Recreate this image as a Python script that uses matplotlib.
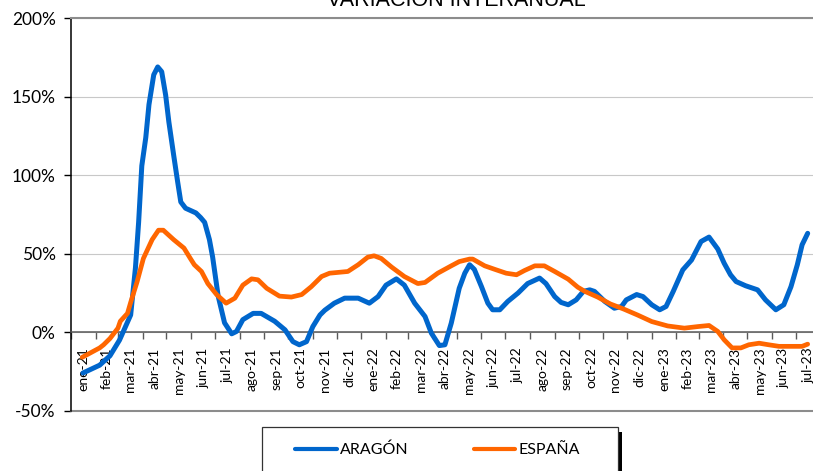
import matplotlib
matplotlib.use('Agg')
import matplotlib.pyplot as plt
from matplotlib.patches import Rectangle
import pandas as pd

# Datos (variacion interanual, %)
aragon_fechas = [
    '2021-01-16', '2021-02-06', '2021-02-19', '2021-03-03', '2021-03-17', '2021-03-23',
    '2021-03-27', '2021-03-31', '2021-04-05', '2021-04-09', '2021-04-15', '2021-04-20',
    '2021-04-25', '2021-04-30', '2021-05-04', '2021-05-10', '2021-05-15', '2021-05-19',
    '2021-05-25', '2021-06-07', '2021-06-13', '2021-06-18', '2021-06-24', '2021-06-28',
    '2021-07-05', '2021-07-13', '2021-07-22', '2021-07-28', '2021-08-05', '2021-08-18',
    '2021-08-28', '2021-09-14', '2021-09-27', '2021-10-07', '2021-10-15', '2021-10-24',
    '2021-11-01', '2021-11-10', '2021-11-16', '2021-11-28', '2021-12-11', '2021-12-28',
    '2022-01-11', '2022-01-22', '2022-02-01', '2022-02-14', '2022-02-24', '2022-03-09',
    '2022-03-22', '2022-03-30', '2022-04-09', '2022-04-16', '2022-04-24', '2022-05-04',
    '2022-05-11', '2022-05-17', '2022-05-23', '2022-06-01', '2022-06-09', '2022-06-15',
    '2022-06-24', '2022-07-04', '2022-07-17', '2022-07-29', '2022-08-13', '2022-08-21',
    '2022-09-01', '2022-09-09', '2022-09-18', '2022-09-28', '2022-10-07', '2022-10-15',
    '2022-10-21', '2022-11-03', '2022-11-15', '2022-11-24', '2022-11-30', '2022-12-13',
    '2022-12-21', '2023-01-01', '2023-01-11', '2023-01-19', '2023-01-28', '2023-02-09',
    '2023-02-20', '2023-03-04', '2023-03-14', '2023-03-25', '2023-04-02', '2023-04-10',
    '2023-04-17', '2023-04-29', '2023-05-14', '2023-05-24', '2023-06-06', '2023-06-16',
    '2023-06-25', '2023-07-03', '2023-07-09', '2023-07-16',
]
aragon_valores = [
    -26, -21, -15, -5, 11, 41,
    70, 106, 124, 145, 164, 169,
    166, 151, 134, 113, 96, 83,
    79, 76, 73, 70, 59, 48,
    23, 6, -1, 0.5, 8, 12,
    12, 7, 1.5, -6, -8, -6,
    3.6, 11, 14, 18.5, 21.7, 21.7,
    18.5, 22.7, 30, 34, 30, 18.5,
    10, -0.6, -8.5, -8, 5.8, 28,
    37.6, 43, 40, 29, 18.5, 14.3,
    14.3, 19.6, 25, 31, 34.5, 31,
    22.7, 19, 17.5, 20.6, 26, 27,
    26, 19.6, 15.3, 16.4, 20.6, 24,
    22.7, 17.5, 14.3, 16.4, 26, 39.7,
    46, 57.8, 60.6, 53, 44, 36.6,
    32.3, 29.6, 27, 20.6, 14.3, 17.5,
    29, 43, 55.7, 63,
]

espana_fechas = [
    '2021-01-15', '2021-02-06', '2021-02-11', '2021-02-19', '2021-03-01', '2021-03-04',
    '2021-03-13', '2021-03-17', '2021-03-25', '2021-04-02', '2021-04-13', '2021-04-21',
    '2021-04-27', '2021-05-10', '2021-05-23', '2021-05-31', '2021-06-05', '2021-06-14',
    '2021-06-22', '2021-07-03', '2021-07-15', '2021-07-26', '2021-08-05', '2021-08-16',
    '2021-08-24', '2021-09-04', '2021-09-20', '2021-10-05', '2021-10-18', '2021-10-30',
    '2021-11-12', '2021-11-22', '2021-12-15', '2021-12-28', '2022-01-09', '2022-01-17',
    '2022-01-26', '2022-02-08', '2022-02-24', '2022-03-13', '2022-03-22', '2022-04-07',
    '2022-04-24', '2022-05-04', '2022-05-17', '2022-05-21', '2022-06-05', '2022-06-18',
    '2022-07-02', '2022-07-15', '2022-07-25', '2022-08-07', '2022-08-19', '2022-09-01',
    '2022-09-18', '2022-09-30', '2022-10-09', '2022-10-25', '2022-11-10', '2022-11-27',
    '2022-12-14', '2023-01-01', '2023-01-21', '2023-02-11', '2023-02-28', '2023-03-14',
    '2023-03-25', '2023-04-02', '2023-04-12', '2023-04-23', '2023-05-03', '2023-05-16',
    '2023-05-28', '2023-06-10', '2023-06-27', '2023-07-09', '2023-07-16',
]
espana_valores = [
    -16, -10, -8, -4, 2.6, 7,
    12, 19, 32, 47, 59, 65,
    65, 59, 53.6, 47, 43, 38.7,
    31, 24, 18.5, 21.7, 30, 34,
    33.4, 28, 23, 22.4, 24, 29,
    35.5, 37.6, 38.7, 43, 47.8, 48.7,
    47, 41.5, 35.5, 31, 31.7, 37.6,
    42.3, 45, 46.6, 46.6, 42.3, 40,
    37.6, 36.6, 39.3, 42.3, 42.3, 38.7,
    33.8, 28.7, 26, 22.4, 18, 14.7,
    11, 6.8, 4, 2.6, 3.6, 4.3,
    0.5, -4.8, -10, -10, -8, -7,
    -8, -9, -9, -9, -7.6,
]

etiquetas_meses = [
    'ene-21', 'feb-21', 'mar-21', 'abr-21', 'may-21', 'jun-21', 'jul-21', 'ago-21',
    'sep-21', 'oct-21', 'nov-21', 'dic-21', 'ene-22', 'feb-22', 'mar-22', 'abr-22',
    'may-22', 'jun-22', 'jul-22', 'ago-22', 'sep-22', 'oct-22', 'nov-22', 'dic-22',
    'ene-23', 'feb-23', 'mar-23', 'abr-23', 'may-23', 'jun-23', 'jul-23',
]
ticks_y = [-50, 0, 50, 100, 150, 200]

plt.rcParams['font.family'] = ['Lato', 'DejaVu Sans']

W, H = 813, 471
fig = plt.figure(figsize=(W / 100, H / 100), dpi=100)
# el area de grafico continua un poco mas alla del borde derecho (recortado)
ax = fig.add_axes([71 / W, (H - 410.7) / H, (820.4 - 71) / W, (410.7 - 18.3) / H])

azul = '#0066CC'
naranja = '#FF6600'
l1, = ax.plot(pd.to_datetime(aragon_fechas), aragon_valores, color=azul, lw=3.6,
              solid_joinstyle='round', solid_capstyle='round', label='ARAGÓN', zorder=3)
l2, = ax.plot(pd.to_datetime(espana_fechas), espana_valores, color=naranja, lw=3.4,
              solid_joinstyle='round', solid_capstyle='round', label='ESPAÑA', zorder=3)

inicio_mes = pd.date_range('2021-01-01', '2023-08-01', freq='MS')
mitad_mes = inicio_mes[:-1] + (inicio_mes[1:] - inicio_mes[:-1]) / 2

ax.set_xlim(inicio_mes[0], inicio_mes[-1])
ax.set_ylim(-50, 200)

ax.set_xticks(inicio_mes)
ax.set_xticklabels([])
ax.set_xticks(mitad_mes, minor=True)
ax.set_xticklabels(etiquetas_meses, minor=True, fontsize=12.5)
ax.tick_params(axis='x', which='major', length=5, direction='out', color='#595959', width=1)
ax.tick_params(axis='x', which='minor', length=0, pad=11, labelrotation=90)
for t in ax.get_xticklabels(minor=True):
    t.set_horizontalalignment('center')
    t.set_verticalalignment('top')

ax.set_yticks(ticks_y)
ax.set_yticklabels([f'{v}%' for v in ticks_y], fontsize=12.5)
ax.tick_params(axis='y', length=5, direction='out', width=1, pad=6)

ax.yaxis.grid(True, color='#c8c8c8', lw=0.8)
ax.set_axisbelow(True)

ax.spines['bottom'].set_position(('data', 0))
ax.spines['bottom'].set_color('#595959')
ax.spines['bottom'].set_linewidth(1.1)
ax.spines['left'].set_color('black')
ax.spines['left'].set_linewidth(1.1)
ax.spines['top'].set_color('#8c8c8c')
ax.spines['top'].set_linewidth(1.5)
ax.spines['right'].set_visible(False)
# borde inferior del area de grafico
ax.axhline(-50, color='#8c8c8c', lw=1.5, clip_on=False)

fig.text(456.5 / W, 1 - 6 / H, 'VARIACIÓN INTERANUAL', ha='center', va='baseline',
         fontsize=15.5, family=['Liberation Sans', 'DejaVu Sans'])

# marco de la leyenda con sombra
fig.add_artist(Rectangle((617.7 / W, -0.05), 4.5 / W, 1 - 431.7 / H + 0.05,
                         transform=fig.transFigure, facecolor='black', edgecolor='none',
                         zorder=1))
fig.add_artist(Rectangle((262.3 / W, -0.05), (617.7 - 262.3) / W, 1 - 427.3 / H + 0.05,
                         transform=fig.transFigure, facecolor='white', edgecolor='#333333',
                         lw=0.9, zorder=2))

leg = fig.legend(handles=[l1, l2], loc='center left',
                 bbox_to_anchor=(295 / W, 1 - 450 / H), ncol=2, frameon=False,
                 handlelength=2.6, handletextpad=0.2, columnspacing=4.1,
                 fontsize=11.5, borderpad=0, borderaxespad=0)
for linea in leg.get_lines():
    linea.set_linewidth(3.0)
leg.set_zorder(5)

fig.savefig('out.png', dpi=100)
